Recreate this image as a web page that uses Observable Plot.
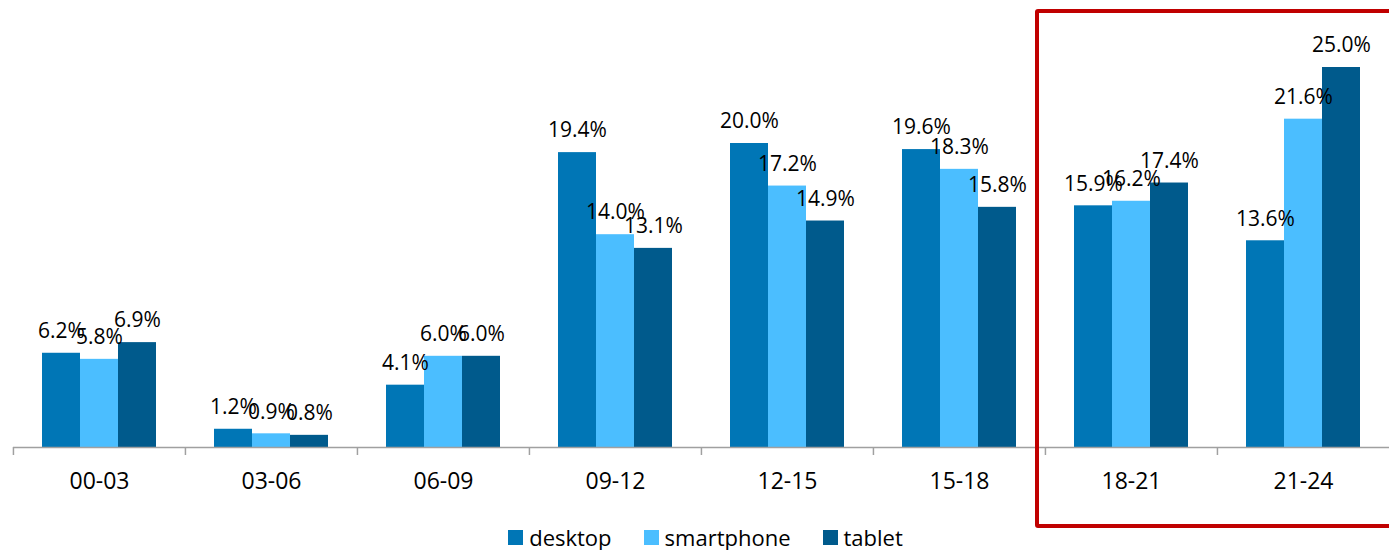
<!DOCTYPE html>
<html>
<head>
<meta charset="utf-8">
<script src="https://cdn.jsdelivr.net/npm/d3@7"></script>
<script src="https://cdn.jsdelivr.net/npm/@observablehq/plot@0.6"></script>
<style>
  html, body { margin: 0; padding: 0; background: #fff; overflow: hidden; }
  #wrap { position: relative; width: 1389px; height: 550px; font-family: "Open Sans", sans-serif; }
  #legend { display: flex; justify-content: center; align-items: center; height: 26px; font-size: 22px; color: #000; padding-left: 22px; }
  .item { display: flex; align-items: center; margin: 0 16px; }
  .sw { width: 15px; height: 15px; margin-right: 6px; }
  #box { position: absolute; left: 1035px; top: 9px; width: 400px; height: 511px; border: 4px solid #C00000; border-radius: 3px; pointer-events: none; }
</style>
</head>
<body>
<div id="wrap">
  <div id="chart"></div>
  <div id="legend"></div>
  <div id="box"></div>
</div>
<script>
const categories = ["00-03", "03-06", "06-09", "09-12", "12-15", "15-18", "18-21", "21-24"];
const series = ["desktop", "smartphone", "tablet"];
const desktop = [6.2, 1.2, 4.1, 19.4, 20.0, 19.6, 15.9, 13.6];
const smartphone = [5.8, 0.9, 6.0, 14.0, 17.2, 18.3, 16.2, 21.6];
const tablet = [6.9, 0.8, 6.0, 13.1, 14.9, 15.8, 17.4, 25.0];
const colors = ["#0076B6", "#4BBEFF", "#005A8C"];

const seriesValues = [desktop, smartphone, tablet];
const data = categories.flatMap((c, i) =>
  series.map((s, j) => ({cat: c, series: s, value: seriesValues[j][i]}))
);

const W = 1389, ML = 12, MR = 0;
const bw = (W - ML - MR) / categories.length;

const chart = Plot.plot({
  width: W,
  height: 524,
  marginLeft: ML,
  marginRight: MR,
  marginTop: 67,
  marginBottom: 77,
  fx: {domain: categories, padding: 0, label: null},
  x: {domain: series, paddingInner: 0, paddingOuter: 0.745, axis: null},
  y: {domain: [0, 25], axis: null},
  color: {domain: series, range: colors},
  style: {fontFamily: "Open Sans, sans-serif", fontSize: "21px", background: "transparent"},
  marks: [
    Plot.barY(data, {fx: "cat", x: "series", y: "value", fill: "series"}),
    Plot.ruleY([0], {stroke: "#A0A0A0", strokeWidth: 1.5}),
    Plot.text(data, {fx: "cat", x: "series", y: "value", text: d => d.value.toFixed(1) + "%", dy: -22, fontSize: 21, fill: "#000"}),
    Plot.axisFx({anchor: "bottom", tickSize: 0, tickPadding: 25, fontSize: 23, label: null, color: "#000"}),
    Plot.axisFx({anchor: "bottom", text: null, tickSize: 8, dx: -bw / 2, stroke: "#A0A0A0", strokeWidth: 1.5, label: null})
  ]
});
document.getElementById("chart").appendChild(chart);

const legend = document.getElementById("legend");
series.forEach((s, i) => {
  const item = document.createElement("div");
  item.className = "item";
  const sw = document.createElement("div");
  sw.className = "sw";
  sw.style.background = colors[i];
  const t = document.createElement("span");
  t.textContent = s;
  item.appendChild(sw);
  item.appendChild(t);
  legend.appendChild(item);
});
</script>
</body>
</html>
